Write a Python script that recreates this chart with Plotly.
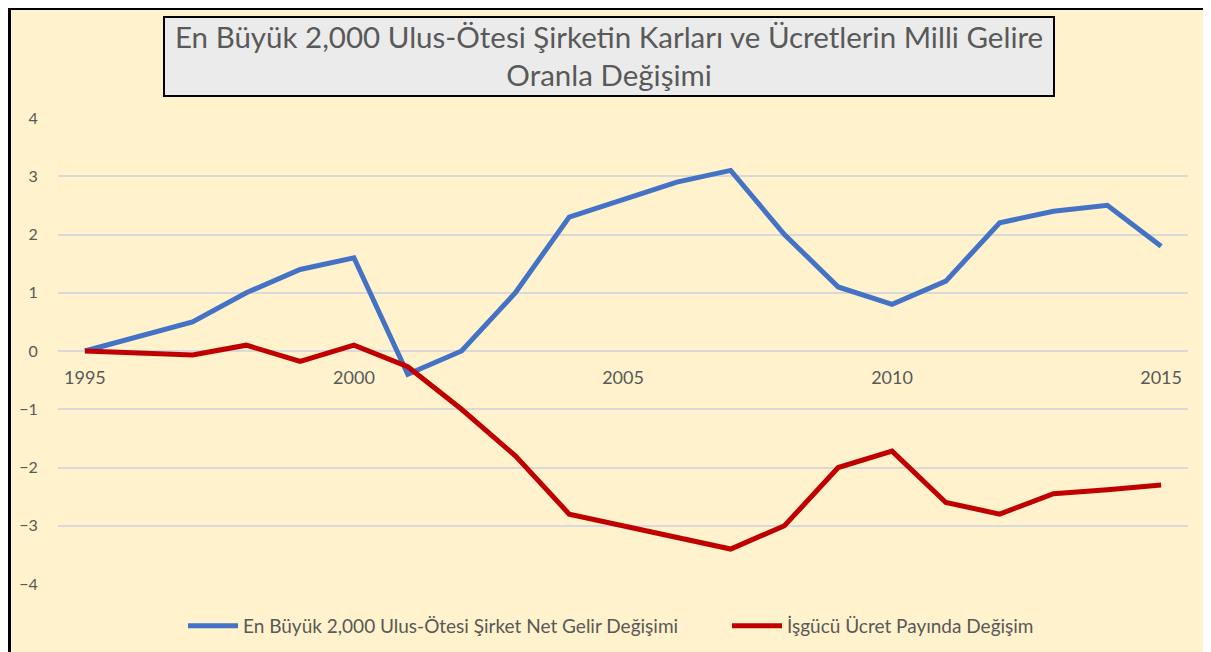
import plotly.graph_objects as go

years = list(range(1995, 2016))
net_income = [0, 0.25, 0.5, 1.0, 1.4, 1.6, -0.4, 0.0, 1.0, 2.3, 2.6, 2.9, 3.1, 2.0, 1.1, 0.8, 1.2, 2.2, 2.4, 2.5, 1.8]
wage_share = [0, -0.03, -0.07, 0.1, -0.18, 0.1, -0.27, -1.0, -1.8, -2.8, -3.0, -3.2, -3.4, -3.0, -2.0, -1.72, -2.6, -2.8, -2.45, -2.38, -2.3]
name_net = "En Büyük 2,000 Ulus-Ötesi Şirket Net Gelir Değişimi"
name_wage = "İşgücü Ücret Payında Değişim"
title_text = "En Büyük 2,000 Ulus-Ötesi Şirketin Karları ve Ücretlerin Milli Gelire<br>Oranla Değişimi"
x_ticks = [1995, 2000, 2005, 2010, 2015]
y_ticks = [-4, -3, -2, -1, 0, 1, 2, 3, 4]

# page adds an 8px body margin; figure fills the rest of the window
W, H = 1203, 644
L, R, T, B = 50, 1180, 110, 576


def px(x):
    return (x - L) / (R - L)


def py(y):
    return (B - y) / (B - T)


FONT = "Lato"
TXT = "#595959"

fig = go.Figure()
fig.add_trace(go.Scatter(x=years, y=net_income, mode="lines", name=name_net,
                         line=dict(color="#4472C4", width=5), legend="legend"))
fig.add_trace(go.Scatter(x=years, y=wage_share, mode="lines", name=name_wage,
                         line=dict(color="#C00000", width=5), legend="legend2"))

leg_common = dict(orientation="h", xanchor="left", yanchor="middle", y=py(618),
                  font=dict(size=19, color=TXT, family=FONT), bgcolor="rgba(0,0,0,0)",
                  itemwidth=50)

fig.update_layout(
    width=W, height=H,
    margin=dict(l=L, r=W - R, t=T, b=H - B, pad=0, autoexpand=False),
    paper_bgcolor="#FFF2CC",
    plot_bgcolor="rgba(0,0,0,0)",
    font=dict(family=FONT, color=TXT),
    showlegend=True,
    legend=dict(x=px(175), **leg_common),
    legend2=dict(x=px(719), **leg_common),
    xaxis=dict(range=[1994.5, 2015.5], tickvals=x_ticks, showgrid=False, zeroline=False,
               showline=False, anchor="free", position=0.5, ticks="outside",
               ticklen=10, tickcolor="rgba(0,0,0,0)", tickfont=dict(size=18, color=TXT)),
    yaxis=dict(range=[-4, 4], tickvals=y_ticks, showgrid=True, gridcolor="#D9D9D9",
               gridwidth=1.5, zeroline=False, showline=False, ticks="outside", ticklen=16,
               tickcolor="rgba(0,0,0,0)", tickfont=dict(size=16, color=TXT)),
    shapes=[
        dict(type="line", xref="paper", yref="paper", x0=px(0), x1=px(1300), y0=py(0.5), y1=py(0.5),
             line=dict(color="#000000", width=3), layer="below"),
        dict(type="line", xref="paper", yref="paper", x0=px(1.5), x1=px(1.5), y0=py(0), y1=py(700),
             line=dict(color="#000000", width=3), layer="below"),
        dict(type="rect", xref="paper", yref="paper", x0=px(156), x1=px(1046), y0=py(9), y1=py(88),
             fillcolor="#EBEBEB", line=dict(color="#000000", width=2), layer="above"),
    ],
    annotations=[
        dict(text=title_text, xref="paper", yref="paper", x=px(601), y=py(47), showarrow=False,
             xanchor="center", yanchor="middle", font=dict(size=29.5, color=TXT, family=FONT)),
    ],
)

fig.write_html("out.html")
